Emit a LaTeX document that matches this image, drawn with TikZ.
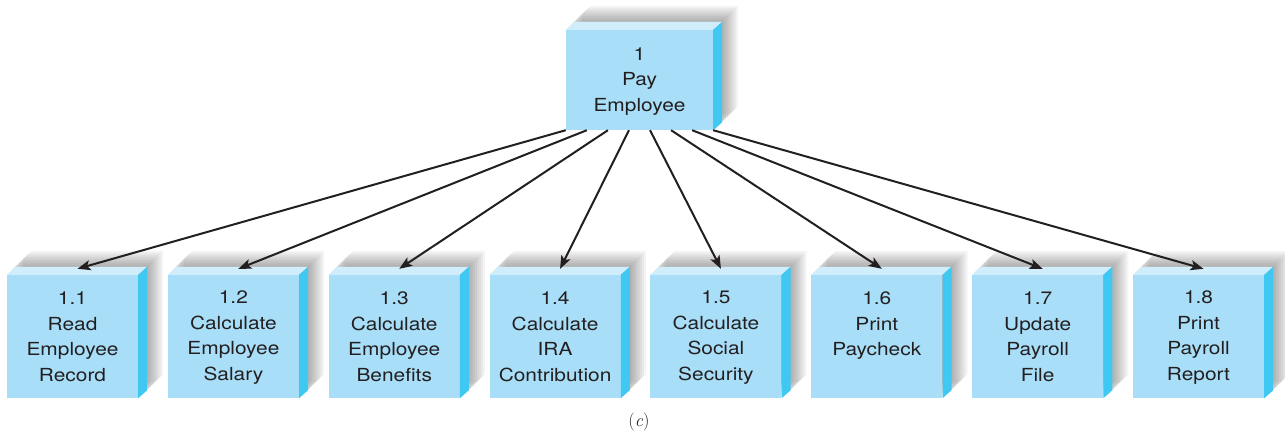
\documentclass[tikz,border=0pt]{standalone}
\usepackage{fontspec}
\newfontfamily\boxfont[FakeStretch=1.16]{TeX Gyre Heros}
\usetikzlibrary{arrows.meta,calc,backgrounds}
\definecolor{frontblue}{RGB}{168,222,248}
\definecolor{topblue}{RGB}{207,237,251}
\definecolor{sideblue}{RGB}{62,200,242}
\definecolor{txt}{RGB}{35,31,32}
\newcommand\firststrut{\rule{0pt}{15pt}}
\newcommand\laststrut{\rule[-2pt]{0pt}{2pt}}
\newcommand\cubeparts[1]{%
  \fill[topblue] (#1.north west) -- ++(9,-8) -- ($(#1.north east)+(9,-8)$) -- (#1.north east) -- cycle;
  \fill[sideblue] (#1.north east) -- ++(9,-8) -- ($(#1.south east)+(9,-8)$) -- (#1.south east) -- cycle;
  \begin{pgfonlayer}{background}
  \foreach \t in {16,14,...,2}{
    \fill[black,opacity=0.045] ($(#1.north west)+(\t,-\t)$) -- ++(9,-8) -- ($(#1.north east)+(9+\t,-8-\t)$) -- ($(#1.south east)+(9+\t,-8-\t)$) -- ($(#1.south east)+(\t,-\t)$) -- ($(#1.south west)+(\t,-\t)$) -- cycle;
  }
  \end{pgfonlayer}
}
\tikzset{
  front/.style={fill=frontblue, inner sep=0pt, align=center, text=txt,
    font=\boxfont\fontsize{18}{25.5}\selectfont},
  subbox/.style={front, minimum width=131pt, minimum height=123pt},
  mainbox/.style={front, minimum width=147pt, minimum height=100pt},
  conn/.style={line width=2pt, draw=txt, -{Stealth[length=13pt,width=10pt,inset=3pt]}}
}
\begin{document}
\begin{tikzpicture}[x=1pt,y=-1pt]
\useasboundingbox (0,0) rectangle (1285,437);
\node[mainbox] (p1) at (639.5,80) {\firststrut 1\\Pay\\Employee\laststrut};
\cubeparts{p1}
\foreach \i/\txt in {
  1/{\firststrut 1.1\\Read\\Employee\\Record\laststrut},
  2/{\firststrut 1.2\\Calculate\\Employee\\Salary\laststrut},
  3/{\firststrut 1.3\\Calculate\\Employee\\Benefits\laststrut},
  4/{\firststrut 1.4\\Calculate\\IRA\\Contribution\laststrut},
  5/{\firststrut 1.5\\Calculate\\Social\\Security\laststrut},
  6/{\firststrut 1.6\\Print\\Paycheck\\\laststrut},
  7/{\firststrut 1.7\\Update\\Payroll\\File\laststrut},
  8/{\firststrut 1.8\\Print\\Payroll\\Report\laststrut}}{
  \node[subbox] (b\i) at ({72.5+160.86*(\i-1)},336.5) {\txt};
  \cubeparts{b\i}
  \coordinate (t\i) at ($(b\i.north)+(5,-6)$);
}
\foreach \i in {1,...,8}{
  \draw[conn] ($(p1.south west)!{(\i-1)/7}!(p1.south east)$) -- (t\i);
}
\node[text=txt, font=\fontsize{18}{20}\selectfont] (cap) at (639,422) {(\textit{c})};
\end{tikzpicture}
\end{document}
